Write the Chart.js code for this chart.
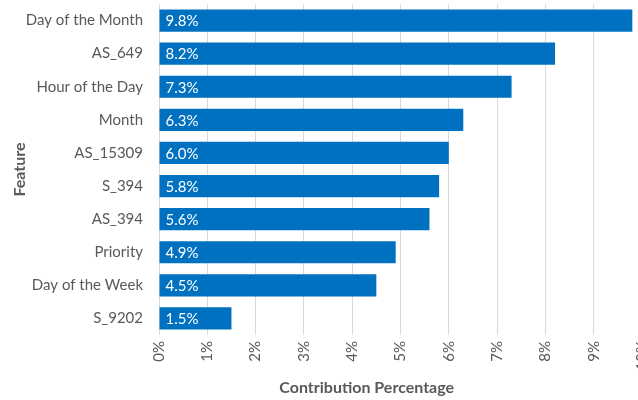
<!DOCTYPE html>
<html>
<head>
<meta charset="utf-8">
<title>Feature contribution</title>
<script src="https://cdn.jsdelivr.net/npm/chart.js@4"></script>
<style>
  html, body { margin: 0; padding: 0; background: #fff; overflow: hidden; }
  #wrap { position: relative; width: 660px; height: 400px; }
</style>
</head>
<body>
<div id="wrap"><canvas id="chart"></canvas></div>
<script>
// Feature contributions, largest first
const features = [
  "Day of the Month", "AS_649", "Hour of the Day", "Month", "AS_15309",
  "S_394", "AS_394", "Priority", "Day of the Week", "S_9202",
];
const contribution = [9.8, 8.2, 7.3, 6.3, 6.0, 5.8, 5.6, 4.9, 4.5, 1.5];
const xTicks = [0, 1, 2, 3, 4, 5, 6, 7, 8, 9, 10];
const xTitle = "Contribution Percentage";

const FONT = "Lato, 'Open Sans', sans-serif";
const GREY = "#595959";

// writes the value inside the left end of each bar
const barLabels = {
  id: "barLabels",
  afterDatasetsDraw(chart) {
    const ctx = chart.ctx;
    const meta = chart.getDatasetMeta(0);
    ctx.save();
    ctx.fillStyle = "#ffffff";
    ctx.font = `15px ${FONT}`;
    ctx.textAlign = "left";
    ctx.textBaseline = "middle";
    meta.data.forEach((bar, i) => {
      ctx.fillText(contribution[i].toFixed(1) + "%", bar.base + 6, bar.y + 1);
    });
    ctx.restore();
  },
};

// x axis title sits a bit left of the plot centre
const xAxisTitle = {
  id: "xAxisTitle",
  afterDraw(chart) {
    const ctx = chart.ctx;
    const x = chart.scales.x;
    ctx.save();
    ctx.fillStyle = GREY;
    ctx.font = `bold 16px ${FONT}`;
    ctx.textAlign = "center";
    ctx.textBaseline = "middle";
    ctx.fillText(xTitle, x.getPixelForValue(4.3), 388);
    ctx.restore();
  },
};

new Chart(document.getElementById("chart"), {
  type: "bar",
  data: {
    labels: features,
    datasets: [{
      data: contribution,
      backgroundColor: "#0070c0",
      barPercentage: 0.67,
      categoryPercentage: 1,
    }],
  },
  options: {
    indexAxis: "y",
    responsive: true,
    maintainAspectRatio: false,
    animation: false,
    layout: { padding: { top: 4, right: 18, left: 0, bottom: 0 } },
    plugins: { legend: { display: false }, tooltip: { enabled: false } },
    scales: {
      x: {
        min: 0,
        max: 10,
        afterBuildTicks: (scale) => { scale.ticks = xTicks.map((v) => ({ value: v })); },
        afterFit: (scale) => {
          scale.height = 65;
          scale.paddingLeft = 0;
          scale.paddingRight = 0;
        },
        grid: { color: "#d9d9d9", drawTicks: false },
        border: { display: false },
        ticks: {
          minRotation: 90,
          maxRotation: 90,
          padding: 6,
          color: GREY,
          font: { family: FONT, size: 15 },
          callback: (v) => v + "%",
        },
      },
      y: {
        afterFit: (scale) => {
          scale.width = 159;
          scale.paddingTop = 0;
          scale.paddingBottom = 0;
        },
        grid: { display: false },
        border: { display: false },
        ticks: {
          padding: 8,
          color: GREY,
          font: { family: FONT, size: 15 },
        },
        title: {
          display: true,
          text: "Feature",
          color: GREY,
          font: { family: FONT, size: 16, weight: "bold" },
          padding: { top: 10, bottom: 0 },
        },
      },
    },
  },
  plugins: [barLabels, xAxisTitle],
});
</script>
</body>
</html>
